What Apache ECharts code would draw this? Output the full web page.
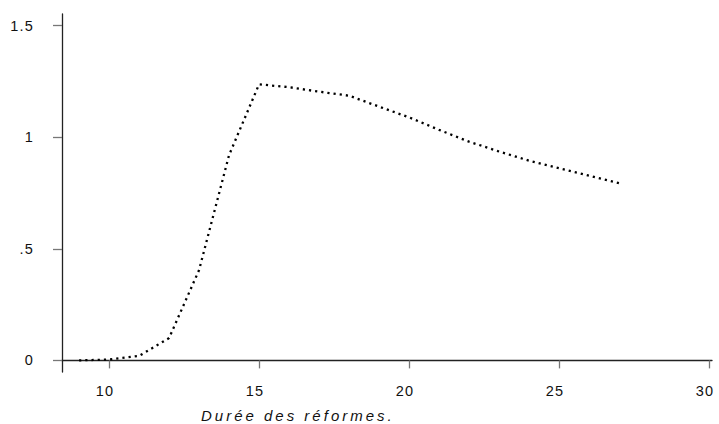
<!DOCTYPE html>
<html>
<head>
<meta charset="utf-8">
<script src="https://cdn.jsdelivr.net/npm/echarts@6/dist/echarts.min.js"></script>
<style>
  html, body { margin: 0; padding: 0; background: #fff; }
  #chart { width: 719px; height: 424px; }
  #chart text { letter-spacing: 1.2px; }
  #chart text[style*="italic"] { letter-spacing: 3px; }
</style>
</head>
<body>
<div id="chart"></div>
<script>
// durée (années) et effet estimé
const duree = [9, 10, 11, 12, 13, 14, 15, 16, 17, 18, 19, 20, 21, 22, 23, 24, 25, 26, 27];
const effet = [0, 0.004, 0.02, 0.1, 0.405, 0.92, 1.237, 1.224, 1.204, 1.186, 1.137, 1.089, 1.033, 0.98, 0.936, 0.895, 0.861, 0.828, 0.794];
const xTicks = [10, 15, 20, 25, 30];
const yTicks = [0, 0.5, 1, 1.5];
const xTitle = 'Durée des réformes.';

const chart = echarts.init(document.getElementById('chart'), null, { renderer: 'svg' });

const font = '"Liberation Sans", Arial, sans-serif';

const option = {
    animation: false,
    title: {
        text: xTitle,
        left: 196,
        top: 403,
        textStyle: {
            fontFamily: font,
            fontStyle: 'italic',
            fontWeight: 'normal',
            fontSize: 15,
            color: '#111'
        }
    },
    grid: {
        left: 62,
        right: 7,
        top: 14,
        bottom: 52
    },
    xAxis: {
        type: 'value',
        min: 8.43,
        max: 30.1,
        splitLine: { show: false },
        axisLine: { show: true, lineStyle: { color: '#222', width: 1.3 } },
        axisTick: {
            show: true,
            length: 8,
            customValues: xTicks,
            lineStyle: { color: '#777', width: 1.3 }
        },
        axisLabel: {
            customValues: xTicks,
            margin: 11,
            padding: [0, 8, 0, 0],
            fontFamily: font,
            fontSize: 14.5,
            color: '#111'
        }
    },
    yAxis: {
        type: 'value',
        min: -0.052,
        max: 1.552,
        splitLine: { show: false },
        axisLine: { show: true, lineStyle: { color: '#222', width: 1.3 } },
        axisTick: {
            show: true,
            length: 9,
            customValues: yTicks,
            lineStyle: { color: '#777', width: 1.3 }
        },
        axisLabel: {
            customValues: yTicks,
            margin: 28,
            fontFamily: font,
            fontSize: 14.5,
            color: '#111',
            formatter: function (v) {
                // style Stata : .5 au lieu de 0.5
                return String(v).replace(/^0\./, '.');
            }
        }
    },
    series: [
        {
            type: 'line',
            data: duree.map((d, i) => [d, effet[i]]),
            symbol: 'none',
            smooth: false,
            lineStyle: {
                color: '#000',
                width: 2.3,
                type: [2.2, 4]
            }
        }
    ]
};

chart.setOption(option);
</script>
</body>
</html>
